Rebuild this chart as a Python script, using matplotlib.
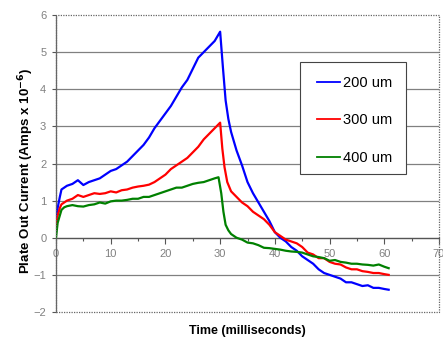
import matplotlib
matplotlib.use("Agg")
import matplotlib.pyplot as plt
from matplotlib.patches import Rectangle
from matplotlib.ticker import MultipleLocator

plt.rcParams['font.family'] = ['Liberation Sans', 'DejaVu Sans']

labels = ["200 um", "300 um", "400 um"]
colors = ["#0000FF", "#FF0000", "#008000"]

t_200 = [0, 0.3, 0.7, 1, 1.5, 2, 3, 4, 5, 6, 7, 8, 9, 10, 11, 12, 13, 14, 15, 16, 17, 18, 19, 20,
         21, 22, 23, 24, 25, 26, 27, 28, 29, 30, 30.5, 31, 31.5, 32, 33, 34, 35, 36, 37, 38, 39, 40,
         41, 42, 43, 44, 45, 46, 47, 48, 49, 50, 51, 52, 53, 54, 55, 56, 57, 58, 59, 60, 60.8]
v_200 = [0.2, 0.8, 1.1, 1.3, 1.35, 1.4, 1.45, 1.55, 1.42, 1.5, 1.55, 1.6, 1.7, 1.8, 1.85, 1.95, 2.05,
         2.2, 2.35, 2.5, 2.7, 2.95, 3.15, 3.35, 3.55, 3.8, 4.05, 4.25, 4.55, 4.85, 5.0, 5.15, 5.3, 5.55,
         4.6, 3.7, 3.2, 2.85, 2.35, 1.95, 1.5, 1.2, 0.95, 0.7, 0.45, 0.15, 0.0, -0.1, -0.25, -0.35, -0.5,
         -0.6, -0.7, -0.85, -0.95, -1.0, -1.05, -1.1, -1.2, -1.2, -1.25, -1.3, -1.28, -1.35, -1.35, -1.38, -1.4]

t_300 = [0, 0.3, 0.7, 1, 2, 3, 4, 5, 6, 7, 8, 9, 10, 11, 12, 13, 14, 15, 16, 17, 18, 19, 20, 21, 22,
         23, 24, 25, 26, 27, 28, 29, 30, 30.4, 30.8, 31.3, 32, 33, 34, 35, 36, 37, 38, 39, 40, 41, 42,
         43, 44, 45, 46, 47, 48, 49, 50, 51, 52, 53, 54, 55, 56, 57, 58, 59, 60, 60.8]
v_300 = [0.3, 0.6, 0.8, 0.9, 1.0, 1.05, 1.15, 1.1, 1.15, 1.2, 1.18, 1.2, 1.25, 1.22, 1.28, 1.3, 1.35,
         1.38, 1.4, 1.43, 1.5, 1.6, 1.7, 1.85, 1.95, 2.05, 2.15, 2.3, 2.45, 2.65, 2.8, 2.95, 3.1,
         2.4, 1.9, 1.5, 1.25, 1.1, 0.95, 0.85, 0.7, 0.6, 0.5, 0.35, 0.15, 0.05, -0.05, -0.1, -0.15,
         -0.25, -0.4, -0.45, -0.55, -0.55, -0.65, -0.7, -0.72, -0.8, -0.85, -0.85, -0.9, -0.92, -0.95,
         -0.95, -0.98, -1.0]

t_400 = [0, 0.3, 0.7, 1, 1.5, 2, 3, 4, 5, 6, 7, 8, 9, 10, 11, 12, 13, 14, 15, 16, 17, 18, 19, 20, 21,
         22, 23, 24, 25, 26, 27, 28, 29, 29.7, 30.2, 30.6, 31, 31.5, 32, 33, 34, 35, 36, 37, 38, 39, 40,
         41, 42, 43, 44, 45, 46, 47, 48, 49, 50, 51, 52, 53, 54, 55, 56, 57, 58, 59, 60, 60.8]
v_400 = [0.0, 0.4, 0.6, 0.75, 0.82, 0.85, 0.88, 0.85, 0.84, 0.88, 0.9, 0.95, 0.92, 0.98, 1.0, 1.0,
         1.02, 1.05, 1.05, 1.1, 1.1, 1.15, 1.2, 1.25, 1.3, 1.35, 1.35, 1.4, 1.45, 1.48, 1.5, 1.55, 1.6,
         1.63, 1.2, 0.7, 0.35, 0.2, 0.1, 0.0, -0.05, -0.13, -0.15, -0.2, -0.27, -0.28, -0.3, -0.32,
         -0.35, -0.37, -0.38, -0.4, -0.45, -0.5, -0.52, -0.55, -0.62, -0.6, -0.65, -0.67, -0.7, -0.7,
         -0.72, -0.73, -0.75, -0.72, -0.78, -0.82]

x_ticks = [0, 10, 20, 30, 40, 50, 60, 70]
y_ticks = [-2, -1, 0, 1, 2, 3, 4, 5, 6]

W, H = 443, 337
fig = plt.figure(figsize=(W / 100, H / 100), dpi=100)
L, R, T, B = 56, 439, 15, 312
ax = fig.add_axes([L / W, 1 - B / H, (R - L) / W, (B - T) / H])

def ax_x(px):
    return (px - L) / (R - L)

def ax_y(py):
    return (B - py) / (B - T)

series = [(t_200, v_200), (t_300, v_300), (t_400, v_400)]
for (t, v), c, lab in zip(series, colors, labels):
    ax.plot(t, v, color=c, lw=1.6, label=lab, zorder=3)

ax.set_xlim(0, 70)
ax.set_ylim(-2, 6)
ax.set_xticks(x_ticks)
ax.set_yticks(y_ticks)
ax.xaxis.set_minor_locator(MultipleLocator(5))

for y in y_ticks[1:-1]:
    ax.axhline(y, color='#808080', lw=0.9, zorder=1)

for s in ['top', 'right']:
    ax.spines[s].set_visible(False)
ax.spines['bottom'].set_position(('data', 0))
ax.spines['bottom'].set_color('#555555')
ax.spines['bottom'].set_linewidth(0.9)
ax.spines['left'].set_color('#666666')
ax.spines['left'].set_linestyle((0, (1, 1)))
ax.spines['left'].set_linewidth(0.9)

ax.add_patch(Rectangle((0, 0), 1, 1, transform=ax.transAxes, fill=False,
                       edgecolor='#666666', lw=0.9, linestyle=(0, (1, 1)), zorder=4, clip_on=False))

ax.tick_params(axis='x', which='major', direction='out', length=4, width=0.8, color='#555555',
               labelsize=8, labelcolor='#808080', pad=4)
ax.tick_params(axis='x', which='minor', direction='out', length=2, width=0.8, color='#555555')
ax.tick_params(axis='y', direction='out', length=3, width=0.8, color='#555555',
               labelsize=8, labelcolor='#808080', pad=4)

ax.set_xlabel('Time (milliseconds)', fontsize=9, fontweight='bold', va='top')
ax.xaxis.set_label_coords(0.5, ax_y(325))
ax.set_ylabel(r'Plate Out Current (Amps x 10$^{\mathbf{-6}}$)', fontsize=9.6, fontweight='bold')
ax.yaxis.set_label_coords(ax_x(36), ax_y(171))

# legend frame
ax.add_patch(Rectangle((ax_x(300), ax_y(174)), ax_x(406) - ax_x(300), ax_y(62) - ax_y(174),
                       transform=ax.transAxes, facecolor='white', edgecolor='#444444', lw=0.8,
                       zorder=5, clip_on=False))
leg = ax.legend(loc='upper left', bbox_to_anchor=(ax_x(317), ax_y(76)),
                fontsize=10.5, frameon=False, labelspacing=1.6, borderpad=0,
                handlelength=1.55, handletextpad=0.25, borderaxespad=0)
leg.set_zorder(6)
for line in leg.get_lines():
    line.set_linewidth(1.3)

fig.savefig('out.png', dpi=100)
